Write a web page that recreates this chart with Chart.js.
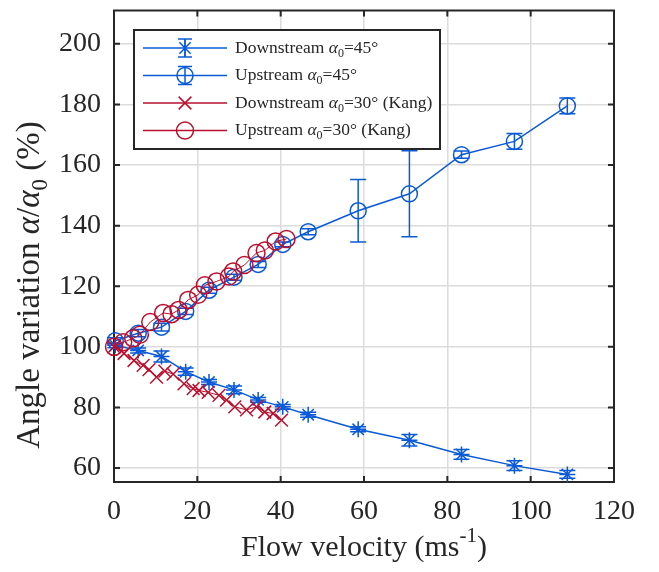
<!DOCTYPE html>
<html>
<head>
<meta charset="utf-8">
<script src="https://cdn.jsdelivr.net/npm/chart.js"></script>
<style>
  html, body { margin: 0; padding: 0; background: #fff; }
  #wrap { width: 659px; height: 572px; }
</style>
</head>
<body>
<div id="wrap"><canvas id="chart" width="659" height="572"></canvas></div>
<script>
// measured (alpha0 = 45 deg)
const vel45 = [0.3, 5.8, 11.4, 17.2, 22.8, 28.8, 34.6, 40.5, 46.6, 58.6, 70.9, 83.4, 96.1, 108.8];
const down45 = [100.5, 98.8, 96.8, 91.8, 88.4, 85.8, 82.5, 80.2, 77.6, 72.8, 69.2, 64.5, 60.8, 57.9];
const down45Err = [0.8, 0.8, 1.8, 1.2, 0.8, 1.3, 0.8, 0.8, 0.8, 0.8, 1.9, 1.6, 1.6, 1.3];
const up45 = [102, 104.5, 106.5, 111.7, 118.7, 123, 127.2, 133.8, 138, 144.9, 150.5, 163.4, 167.8, 179.5];
const up45Err = [1, 1.2, 1.3, 1, 1, 1, 1, 0.8, 1, 10.3, 14.2, 1.2, 2.6, 2.6];

// Kang (alpha0 = 30 deg)
const velKangUp = [0, 2.2, 4.6, 6.2, 8.7, 11.8, 13.8, 15.5, 17.8, 20.2, 21.8, 24.6, 27.6, 28.6, 31.3, 34.2, 36.2, 38.8, 41.4];
const upKang = [100, 101.5, 102.8, 104, 108.2, 111.2, 110.8, 112.2, 115.5, 117.2, 120.3, 121.6, 123.2, 124.9, 127, 131, 131.8, 134.8, 135.6];
const velKangDown = [0, 2.4, 4.8, 7.0, 8.4, 10.2, 12.2, 14.2, 16.8, 19, 20.4, 22.6, 25.2, 27, 29, 31.8, 34.2, 36.2, 38.2, 40.2];
const downKang = [100, 97.8, 95.5, 93.9, 92.5, 90, 92, 91, 87.8, 86.2, 85.6, 85, 84, 82.4, 80.2, 79.2, 80.2, 78.5, 78, 75.8];

const xTicks = [0, 20, 40, 60, 80, 100, 120];
const yTicks = [60, 80, 100, 120, 140, 160, 180, 200];

const BLUE = '#0a5ad6';
const RED = '#b8102e';
const INK = '#262626';
const FONT = '"Liberation Serif", "Times New Roman", serif';

const pts = (xs, ys) => xs.map((x, i) => ({ x: x, y: ys[i] }));

// legend labels, split so alpha can be italic and 0 a subscript
const legendLabels = [
  [{ t: 'Downstream ' }, { t: 'α', it: true }, { t: '0', sub: true }, { t: '=45°' }],
  [{ t: 'Upstream ' }, { t: 'α', it: true }, { t: '0', sub: true }, { t: '=45°' }],
  [{ t: 'Downstream ' }, { t: 'α', it: true }, { t: '0', sub: true }, { t: '=30° (Kang)' }],
  [{ t: 'Upstream ' }, { t: 'α', it: true }, { t: '0', sub: true }, { t: '=30° (Kang)' }]
];
const yTitle = [{ t: 'Angle variation ' }, { t: 'α', it: true }, { t: '/' }, { t: 'α', it: true }, { t: '0', sub: true }, { t: ' (%)' }];
const xTitle = [{ t: 'Flow velocity (ms' }, { t: '-1', sup: true }, { t: ')' }];

function partFont(p, size) {
  const s = (p.sub || p.sup) ? Math.round(size * 0.7) : size;
  return (p.it ? 'italic ' : '') + s + 'px ' + FONT;
}
function drawRich(ctx, parts, x, y, size, align) {
  let total = 0;
  parts.forEach(p => { ctx.font = partFont(p, size); total += ctx.measureText(p.t).width; });
  let cx = align === 'center' ? x - total / 2 : x;
  ctx.textBaseline = 'middle';
  ctx.textAlign = 'left';
  parts.forEach(p => {
    ctx.font = partFont(p, size);
    const dy = p.sub ? size * 0.32 : (p.sup ? -size * 0.38 : 0);
    ctx.fillText(p.t, cx, y + dy);
    cx += ctx.measureText(p.t).width;
  });
}

function marker(ctx, style, x, y, r) {
  ctx.beginPath();
  if (style === 'circle') {
    ctx.arc(x, y, r, 0, Math.PI * 2);
  } else {
    const d = r * Math.SQRT1_2;
    ctx.moveTo(x - d, y - d); ctx.lineTo(x + d, y + d);
    ctx.moveTo(x - d, y + d); ctx.lineTo(x + d, y - d);
    if (style === 'star') {
      ctx.moveTo(x, y - r); ctx.lineTo(x, y + r);
    }
  }
  ctx.stroke();
}

const errorBars = {
  id: 'errorBars',
  afterDatasetDraw(chart, args) {
    const ds = chart.data.datasets[args.index];
    if (!ds.errors) return;
    const ctx = chart.ctx, xs = chart.scales.x, ys = chart.scales.y;
    ctx.save();
    ctx.strokeStyle = ds.borderColor;
    ctx.lineWidth = 1.5;
    ds.data.forEach((p, i) => {
      const e = ds.errors[i];
      const px = xs.getPixelForValue(p.x);
      const y1 = ys.getPixelForValue(p.y - e), y2 = ys.getPixelForValue(p.y + e);
      ctx.beginPath();
      ctx.moveTo(px, y1); ctx.lineTo(px, y2);
      ctx.moveTo(px - 8, y1); ctx.lineTo(px + 8, y1);
      ctx.moveTo(px - 8, y2); ctx.lineTo(px + 8, y2);
      ctx.stroke();
    });
    ctx.restore();
  }
};

const frame = {
  id: 'frame',
  beforeDatasetsDraw(chart) {
    const ctx = chart.ctx, a = chart.chartArea, xs = chart.scales.x, ys = chart.scales.y;
    ctx.save();
    ctx.strokeStyle = INK;
    ctx.lineWidth = 2;
    ctx.strokeRect(a.left, a.top, a.right - a.left, a.bottom - a.top);
    ctx.beginPath();
    xTicks.forEach(v => {
      const px = xs.getPixelForValue(v);
      ctx.moveTo(px, a.bottom); ctx.lineTo(px, a.bottom - 6);
      ctx.moveTo(px, a.top); ctx.lineTo(px, a.top + 6);
    });
    yTicks.forEach(v => {
      const py = ys.getPixelForValue(v);
      ctx.moveTo(a.left, py); ctx.lineTo(a.left + 6, py);
      ctx.moveTo(a.right, py); ctx.lineTo(a.right - 6, py);
    });
    ctx.stroke();
    ctx.restore();
  },
  afterDraw(chart) {
    const ctx = chart.ctx, a = chart.chartArea;
    ctx.save();
    ctx.fillStyle = INK;
    // axis titles
    drawRich(ctx, xTitle, (a.left + a.right) / 2, 548, 30, 'center');
    ctx.translate(30, 285);
    ctx.rotate(-Math.PI / 2);
    drawRich(ctx, yTitle, 0, 0, 33, 'center');
    ctx.restore();

    // legend box
    ctx.save();
    const bx = 134, by = 30, bw = 306, bh = 119;
    ctx.fillStyle = '#fff';
    ctx.fillRect(bx, by, bw, bh);
    ctx.strokeStyle = INK;
    ctx.lineWidth = 2;
    ctx.strokeRect(bx, by, bw, bh);
    chart.data.datasets.forEach((ds, i) => {
      const ry = by + 18 + i * 27.5;
      ctx.strokeStyle = ds.borderColor;
      ctx.lineWidth = 1.5;
      ctx.beginPath();
      ctx.moveTo(143, ry); ctx.lineTo(227, ry);
      ctx.stroke();
      marker(ctx, ds.pointStyle === 'crossRot' ? 'x' : ds.pointStyle, 185, ry, ds.pointRadius);
      if (ds.errors) {
        ctx.beginPath();
        ctx.moveTo(185, ry - 9); ctx.lineTo(185, ry + 9);
        ctx.moveTo(178, ry - 9); ctx.lineTo(192, ry - 9);
        ctx.moveTo(178, ry + 9); ctx.lineTo(192, ry + 9);
        ctx.stroke();
      }
      ctx.fillStyle = INK;
      drawRich(ctx, legendLabels[i], 235, ry, 17.5, 'left');
    });
    ctx.restore();
  }
};

const ctx = document.getElementById('chart').getContext('2d');
const chart = new Chart(ctx, {
  type: 'scatter',
  data: {
    datasets: [
      {
        label: 'Downstream α0=45°',
        data: pts(vel45, down45),
        errors: down45Err,
        showLine: true,
        borderColor: BLUE,
        borderWidth: 1.5,
        pointStyle: 'star',
        pointRadius: 8,
        pointBorderWidth: 1.5,
        pointBackgroundColor: 'transparent',
        order: 3
      },
      {
        label: 'Upstream α0=45°',
        data: pts(vel45, up45),
        errors: up45Err,
        showLine: true,
        borderColor: BLUE,
        borderWidth: 1.5,
        pointStyle: 'circle',
        pointRadius: 8,
        pointBorderWidth: 1.5,
        pointBackgroundColor: 'transparent',
        order: 2
      },
      {
        label: 'Downstream α0=30° (Kang)',
        data: pts(velKangDown, downKang),
        showLine: true,
        borderColor: RED,
        borderWidth: 1,
        pointStyle: 'crossRot',
        pointRadius: 9,
        pointBorderWidth: 1.5,
        pointBackgroundColor: 'transparent',
        order: 1
      },
      {
        label: 'Upstream α0=30° (Kang)',
        data: pts(velKangUp, upKang),
        showLine: true,
        borderColor: RED,
        borderWidth: 1,
        pointStyle: 'circle',
        pointRadius: 8.5,
        pointBorderWidth: 1.5,
        pointBackgroundColor: 'transparent',
        order: 0
      }
    ]
  },
  options: {
    responsive: false,
    animation: false,
    clip: false,
    layout: { padding: { left: 0, top: 9, right: 45, bottom: 0 } },
    plugins: {
      legend: { display: false },
      tooltip: { enabled: false }
    },
    scales: {
      x: {
        type: 'linear',
        min: 0,
        max: 120,
        afterFit: s => { s.height = 90; s.paddingLeft = 0; s.paddingRight = 0; },
        afterBuildTicks: s => { s.ticks = xTicks.map(v => ({ value: v })); },
        ticks: { color: INK, font: { family: FONT, size: 28 }, padding: 13, maxRotation: 0 },
        grid: { color: '#dcdcdc', lineWidth: 1.5, drawTicks: false },
        border: { display: false }
      },
      y: {
        min: 55.4,
        max: 211,
        afterFit: s => { s.width = 114; s.paddingTop = 0; s.paddingBottom = 0; },
        afterBuildTicks: s => { s.ticks = yTicks.map(v => ({ value: v })); },
        ticks: { color: INK, font: { family: FONT, size: 28 }, padding: 13 },
        grid: { color: '#dcdcdc', lineWidth: 1.5, drawTicks: false },
        border: { display: false }
      }
    }
  },
  plugins: [frame, errorBars]
});
</script>
</body>
</html>
